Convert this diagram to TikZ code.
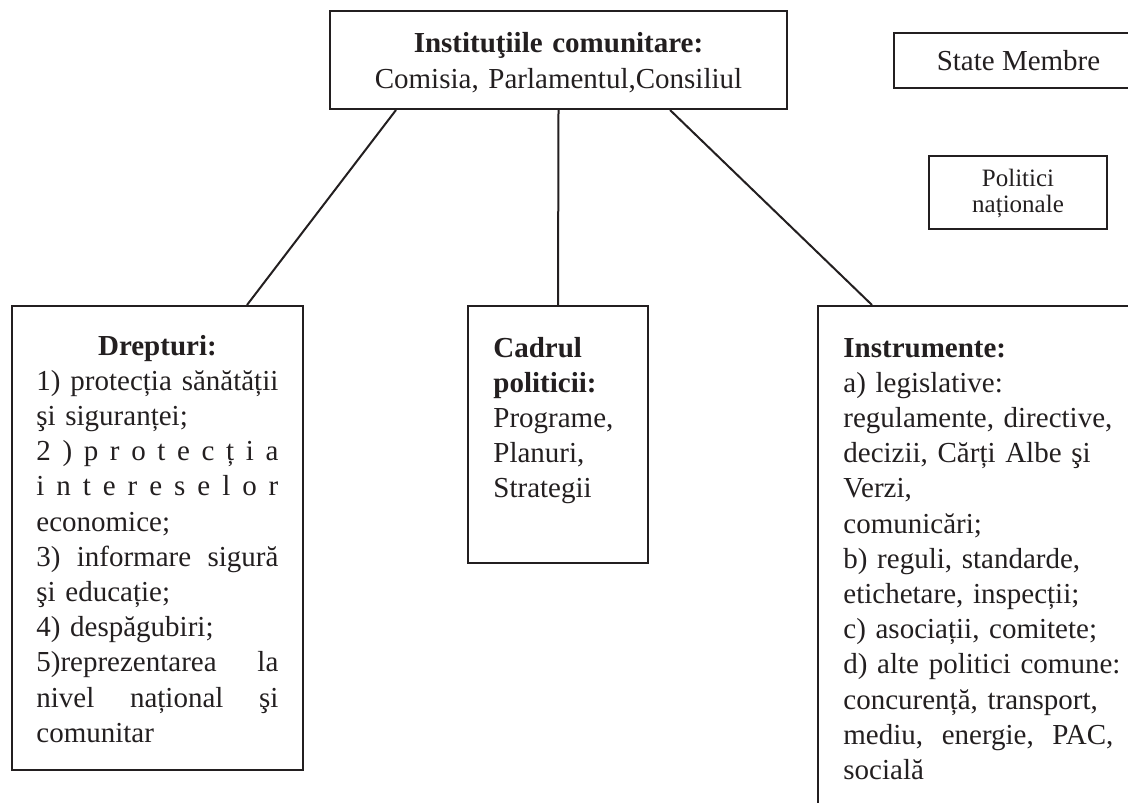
\documentclass[tikz,border=0pt]{standalone}
\usepackage{fontspec}
\setmainfont{Liberation Serif}
\usepackage{tikz}
\usetikzlibrary{positioning, calc, fit}
\definecolor{ink}{RGB}{35,31,32}
\hyphenpenalty=10000
\newcommand{\jline}[1]{\makebox[\linewidth][l]{#1}}
\newcommand{\gap}{\hfill}

\begin{document}
\begin{tikzpicture}[x=0.5pt,y=-0.5pt,
	box/.style={draw=ink,line width=1pt,inner sep=0pt},
	txt/.style={inner sep=0pt,text=ink,font=\fontsize{14.5}{17.6}\selectfont},
	link/.style={draw=ink,line width=1pt}]
	\useasboundingbox (0,0) rectangle (1128,802);
	\clip (0,0) rectangle (1128,802);
	%boxes
	\node[box,fit={(330,11) (787,109)}] (inst) {};
	\node[box,fit={(894,33) (1143,88)}] (state) {};
	\node[box,fit={(929,156) (1107,229)}] (polnat) {};
	\node[box,fit={(12,306) (303,770)}] (drept) {};
	\node[box,fit={(468,306) (648,563)}] (cadru) {};
	\node[box,fit={(818,306) (1150,830)}] (instr) {};
	%texts
	\node[txt,anchor=base,text width=220pt,align=center] (inst-txt) at (558.5,53)
		{\textbf{Instituţiile comunitare:}\\ Comisia, Parlamentul,Consiliul};
	\node[txt,anchor=base] (state-txt) at (1018.5,71) {State Membre};
	\node[txt,anchor=base,text width=80pt,align=center,font=\fontsize{12.5}{13}\selectfont] (polnat-txt) at (1018,187)
		{Politici\\ naționale};
	\node[txt,anchor=base west,text width=121pt] (drept-txt) at (36,355)
		{\makebox[\linewidth]{\textbf{Drepturi:}}\\
		\jline{1)\gap protecția\gap sănătății}\\
		şi siguranței;\\
		\jline{2\gap)\gap p\gap r\gap o\gap t\gap e\gap c\gap ț\gap i\gap a}\\
		\jline{i\gap n\gap t\gap e\gap r\gap e\gap s\gap e\gap l\gap o\gap r}\\
		economice;\\
		\jline{3)\gap informare\gap sigură}\\
		şi educație;\\
		4) despăgubiri;\\
		\jline{5)reprezentarea\gap la}\\
		\jline{nivel\gap național\gap şi}\\
		comunitar};
	\node[txt,anchor=base west,text width=70pt,align=left] (cadru-txt) at (493,357)
		{\textbf{Cadrul}\\ \textbf{politicii:}\\ Programe,\\ Planuri,\\ Strategii};
	\node[txt,anchor=base west,text width=135pt] (instr-txt) at (843,357)
		{\textbf{Instrumente:}\\
		a) legislative:\\
		\mbox{regulamente, directive,}\\
		\mbox{decizii, Cărți Albe şi}\\
		Verzi,\\
		comunicări;\\
		\mbox{b) reguli, standarde,}\\
		\mbox{etichetare, inspecții;}\\
		\mbox{c) asociații, comitete;}\\
		\mbox{d) alte politici comune:}\\
		\mbox{concurență, transport,}\\
		\jline{mediu,\gap energie,\gap PAC,}\\
		socială};
	%links
	\draw[link] ($(inst.south west)+(67,0)$) -- ($(drept.north west)+(236,0)$);
	\draw[link] (inst.south) -- (cadru.north);
	\draw[link] ($(inst.south west)+(341,0)$) -- ($(instr.north west)+(55,0)$);
\end{tikzpicture}
\end{document}
